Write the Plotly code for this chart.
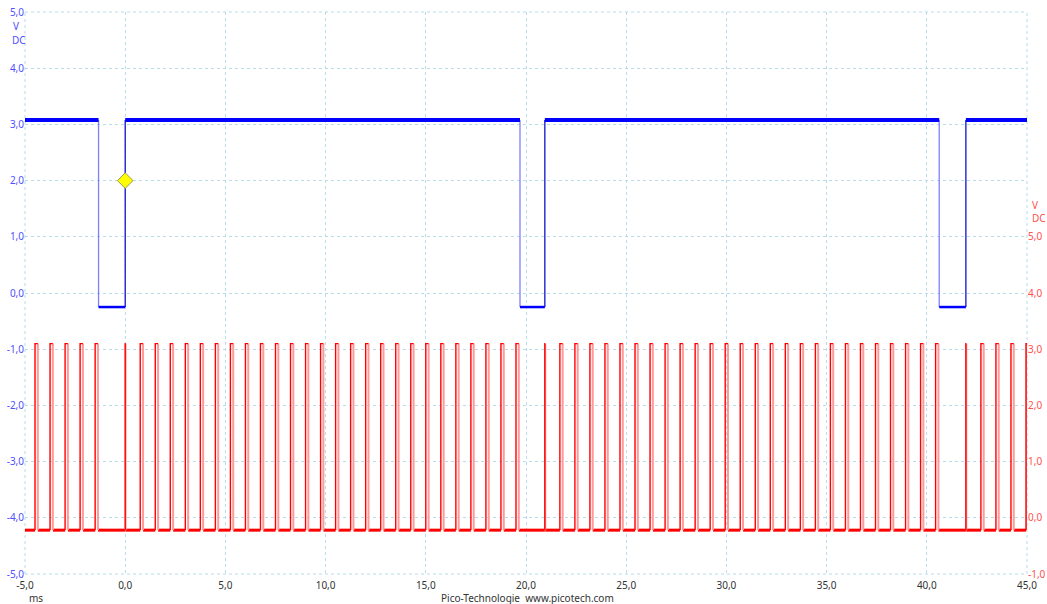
import plotly.graph_objects as go

# ---------------- data ----------------
x_range_ms = [-5.0, 45.0]
x_tick_vals = [-5, 0, 5, 10, 15, 20, 25, 30, 35, 40, 45]
x_tick_text = ["-5,0", "0,0", "5,0", "10,0", "15,0", "20,0", "25,0", "30,0", "35,0", "40,0", "45,0"]

left_tick_vals = [5, 4, 3, 2, 1, 0, -1, -2, -3, -4, -5]
left_tick_text = ["5,0", "4,0", "3,0", "2,0", "1,0", "0,0", "-1,0", "-2,0", "-3,0", "-4,0", "-5,0"]
right_tick_vals = [5, 4, 3, 2, 1, 0, -1]
right_tick_text = ["5,0", "4,0", "3,0", "2,0", "1,0", "0,0", "-1,0"]

# Channel A (blue, left axis): low intervals
blue_fall_ms = [-1.33, 19.70, 40.62]
blue_rise_ms = [0.00, 20.94, 41.95]
blue_high_v = 3.08
blue_low_v = -0.25

# Channel B (red, right axis): pulse start times
red_pulse_start_ms = [
    -4.50, -3.75, -3.00, -2.25, -1.50,
    0.75, 1.50, 2.25, 3.00, 3.75, 4.50, 5.25, 6.00, 6.75, 7.50, 8.25, 9.00, 9.75,
    10.50, 11.25, 12.00, 12.75, 13.50, 14.25, 15.00, 15.75, 16.50, 17.25, 18.00,
    18.75, 19.50,
    21.69, 22.44, 23.19, 23.94, 24.69, 25.44, 26.19, 26.94, 27.69, 28.44, 29.19,
    29.94, 30.69, 31.44, 32.19, 32.94, 33.69, 34.44, 35.19, 35.94, 36.69, 37.44,
    38.19, 38.94, 39.69, 40.44,
    42.70, 43.45, 44.20, 44.95,
]
red_sync_pulse_ms = [0.00, 20.94, 41.95]   # very narrow pulses at channel A rising edges
red_pulse_width_ms = 0.14
red_sync_width_ms = 0.02
red_high_v = 3.10
red_low_v = -0.22

trigger_ms = 0.0
trigger_v = 2.0

# ---------------- build paths ----------------
x0, x1 = x_range_ms

# Blue
bh_x, bh_y = [], []
starts = [x0] + blue_rise_ms
ends = blue_fall_ms + [x1]
for s, e in zip(starts, ends):
    bh_x += [s, e, None]
    bh_y += [blue_high_v, blue_high_v, None]
bl_x, bl_y = [], []
for f, r in zip(blue_fall_ms, blue_rise_ms):
    bl_x += [f, r, None]
    bl_y += [blue_low_v, blue_low_v, None]
bf_x, bf_y = [], []
for f in blue_fall_ms:
    bf_x += [f, f, None]
    bf_y += [blue_high_v, blue_low_v, None]
br_x, br_y = [], []
for r in blue_rise_ms:
    br_x += [r, r, None]
    br_y += [blue_low_v, blue_high_v, None]

# Red
pulses = sorted([(t, red_pulse_width_ms) for t in red_pulse_start_ms] +
                [(t, red_sync_width_ms) for t in red_sync_pulse_ms])
rl_x, rl_y = [], []
prev = x0
for t, w in pulses:
    if t > prev:
        rl_x += [prev, t, None]
        rl_y += [red_low_v, red_low_v, None]
    prev = min(t + w, x1)
if prev < x1:
    rl_x += [prev, x1, None]
    rl_y += [red_low_v, red_low_v, None]
rr_x, rr_y = [], []   # rising edges + tops
rf_x, rf_y = [], []   # falling edges
for t, w in pulses:
    e = min(t + w, x1)
    rr_x += [t, t, e, None]
    rr_y += [red_low_v, red_high_v, red_high_v, None]
    rf_x += [e, e, None]
    rf_y += [red_high_v, red_low_v, None]

BLUE = "#0000ff"
RED = "#ff0000"

fig = go.Figure()
fig.add_trace(go.Scatter(x=rl_x, y=rl_y, yaxis="y2", mode="lines",
                         line=dict(color=RED, width=3), hoverinfo="skip"))
fig.add_trace(go.Scatter(x=rf_x, y=rf_y, yaxis="y2", mode="lines",
                         line=dict(color="#ff9a9a", width=2), hoverinfo="skip"))
fig.add_trace(go.Scatter(x=rr_x, y=rr_y, yaxis="y2", mode="lines",
                         line=dict(color=RED, width=1.4), hoverinfo="skip"))

fig.add_trace(go.Scatter(x=bf_x, y=bf_y, mode="lines",
                         line=dict(color="#7f7fff", width=1.3), hoverinfo="skip"))
fig.add_trace(go.Scatter(x=br_x, y=br_y, mode="lines",
                         line=dict(color="#1010d0", width=1.3), hoverinfo="skip"))
fig.add_trace(go.Scatter(x=bl_x, y=bl_y, mode="lines",
                         line=dict(color=BLUE, width=2.5), hoverinfo="skip"))
fig.add_trace(go.Scatter(x=bh_x, y=bh_y, mode="lines",
                         line=dict(color=BLUE, width=4), hoverinfo="skip"))

fig.add_trace(go.Scatter(x=[trigger_ms], y=[trigger_v], mode="markers",
                         marker=dict(symbol="diamond", size=12, color="#ffff00",
                                     line=dict(color="#9a9a50", width=1)),
                         hoverinfo="skip"))

GRID = "#b8dcea"
FONT = "Noto Sans"

fig.update_layout(
    width=1047, height=604,
    margin=dict(l=25, r=20, t=12, b=30),
    plot_bgcolor="white", paper_bgcolor="white",
    showlegend=False,
    font=dict(family=FONT, size=10),
    xaxis=dict(range=x_range_ms, tickvals=x_tick_vals, ticktext=x_tick_text,
               showgrid=True, gridcolor=GRID, griddash="3px,3px", gridwidth=1,
               zeroline=False, showline=False, ticks="", ticklabelstandoff=4,
               automargin=False, ticklabeloverflow="allow",
               tickfont=dict(color="#333333", size=10, family=FONT)),
    yaxis=dict(range=[-5, 5], tickvals=left_tick_vals, ticktext=left_tick_text,
               showgrid=True, gridcolor=GRID, griddash="3px,3px", gridwidth=1,
               zeroline=False, showline=False, ticks="", ticklabelstandoff=0,
               automargin=False, ticklabeloverflow="allow",
               tickfont=dict(color="#5050ff", size=10, family=FONT)),
    yaxis2=dict(range=[-1, 9], tickvals=right_tick_vals, ticktext=right_tick_text,
                overlaying="y", side="right", showgrid=False, zeroline=False,
                showline=False, ticks="", ticklabelstandoff=0, automargin=False,
                ticklabeloverflow="allow",
                tickfont=dict(color="#ff5050", size=10, family=FONT)),
)

# dashed frame (grid lines at the range ends)
for xa, ya, xb, yb in [(0, 0, 1, 0), (0, 1, 1, 1), (0, 0, 0, 1), (1, 0, 1, 1)]:
    fig.add_shape(type="line", xref="paper", yref="paper", x0=xa, y0=ya, x1=xb, y1=yb,
                  line=dict(color=GRID, width=1, dash="3px,3px"), layer="below")

W, H = 1002.0, 562.0
def px(xp, yp):
    return (xp - 25) / W, (574 - yp) / H

annos = [
    ("V", 11, 26, "#5050ff", "left"),
    ("DC", 10, 40, "#5050ff", "left"),
    ("V", 1030, 205, "#ff5050", "left"),
    ("DC", 1030, 218, "#ff5050", "left"),
    ("ms", 27, 598, "#333333", "left"),
    ("Pico-Technologie  www.picotech.com", 527, 598, "#333333", "center"),
]
for text, xp, yp, col, al in annos:
    ax, ay = px(xp, yp)
    fig.add_annotation(text=text, x=ax, y=ay, xref="paper", yref="paper",
                       xanchor=al, yanchor="middle", showarrow=False,
                       font=dict(color=col, size=10, family=FONT))

fig.write_html("out.html",
               config={"displayModeBar": False},
               post_script="document.body.style.margin='0';"
                           "document.body.style.overflow='hidden';")
